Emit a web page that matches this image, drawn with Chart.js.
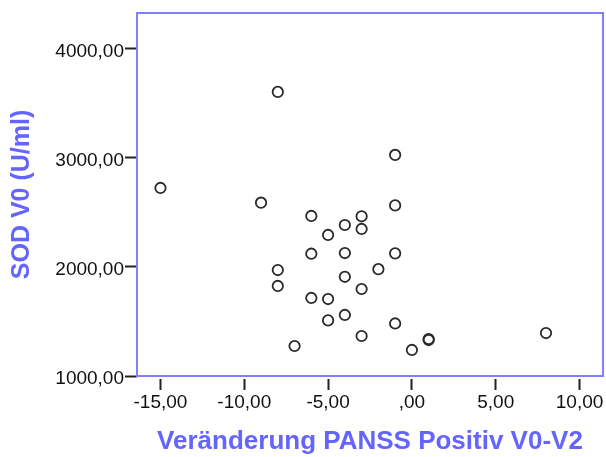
<!DOCTYPE html>
<html>
<head>
<meta charset="utf-8">
<script src="https://cdn.jsdelivr.net/npm/chart.js@4.4.1/dist/chart.umd.min.js"></script>
<style>
  html, body { margin: 0; padding: 0; background: #fff; }
  #wrap { width: 606px; height: 457px; }
</style>
</head>
<body>
<div id="wrap"><canvas id="scatter"></canvas></div>
<script>
// values
var panssChange = [-15, -9, -8, -8, -8, -7, -6, -6, -6, -5, -5, -5, -4, -4, -4, -4,
                   -3, -3, -3, -3, -2, -1, -1, -1, -1, 0, 1, 1, 8];
var sodV0 = [2725, 2590, 3606, 1972, 1826, 1275, 2468, 2122, 1716, 2294, 1706, 1510,
             2385, 2128, 1910, 1560, 2465, 2349, 1798, 1367, 1980, 3028, 2565, 2125,
             1482, 1239, 1339, 1330, 1394];
var xTicks = [-15, -10, -5, 0, 5, 10];
var yTicks = [1000, 2000, 3000, 4000];
var xTitle = 'Veränderung PANSS Positiv V0-V2';
var yTitle = 'SOD V0 (U/ml)';

var blue = '#6464ff';

function spssNum(v) {
  var s = v.toFixed(2).replace('.', ',');
  // SPSS drops the leading zero
  if (s.indexOf('0,') === 0) s = s.substring(1);
  if (s.indexOf('-0,') === 0) s = '-' + s.substring(2);
  return s;
}

var points = panssChange.map(function(x, i) {
  return { x: x, y: sodV0[i] };
});

// frame round the plot area
var framePlugin = {
  id: 'frame',
  afterDraw: function(chart) {
    var a = chart.chartArea, ctx = chart.ctx;
    ctx.save();
    ctx.strokeStyle = '#8080ff';
    ctx.lineWidth = 2;
    ctx.strokeRect(a.left, a.top, a.right - a.left, a.bottom - a.top);
    ctx.restore();
  }
};

Chart.defaults.font.family = '"Liberation Sans", Arial, sans-serif';

var ctx = document.getElementById('scatter').getContext('2d');
new Chart(ctx, {
  type: 'scatter',
  data: {
    datasets: [{
      data: points,
      pointRadius: 5.2,
      pointBorderWidth: 1.8,
      pointBorderColor: '#2a2a2a',
      pointBackgroundColor: 'rgba(255,255,255,0)',
      pointHoverRadius: 5.2
    }]
  },
  plugins: [framePlugin],
  options: {
    responsive: true,
    maintainAspectRatio: false,
    animation: false,
    layout: { autoPadding: false, padding: { left: 0, top: 13, right: 3, bottom: 0 } },
    plugins: { legend: { display: false }, tooltip: { enabled: false } },
    scales: {
      x: {
        type: 'linear',
        min: -16.4,
        max: 11.4,
        afterBuildTicks: function(scale) {
          scale.ticks = xTicks.map(function(v) { return { value: v }; });
        },
        afterFit: function(scale) {
          scale.height = 81;
          scale.paddingLeft = 0;
          scale.paddingRight = 0;
        },
        border: { display: false },
        grid: {
          drawOnChartArea: false, drawTicks: true, tickLength: 14, tickWidth: 2, tickColor: '#222',
          tickBorderDash: [0, 3, 11, 20]   // small gap under the frame, like SPSS
        },
        ticks: {
          color: '#111',
          font: { size: 19 },
          padding: 1,
          maxRotation: 0,
          callback: function(v) { return spssNum(v); }
        },
        title: {
          display: true,
          text: xTitle,
          color: blue,
          font: { size: 26, weight: 'bold' },
          padding: { top: 0, bottom: 0 }
        }
      },
      y: {
        type: 'linear',
        min: 1000,
        max: 4330,
        afterBuildTicks: function(scale) {
          scale.ticks = yTicks.map(function(v) { return { value: v }; });
        },
        afterFit: function(scale) {
          scale.width = 137;
          scale.paddingTop = 0;
          scale.paddingBottom = 0;
        },
        border: { display: false },
        grid: { drawOnChartArea: false, drawTicks: true, tickLength: 12, tickWidth: 2, tickColor: '#222' },
        ticks: {
          color: '#111',
          font: { size: 19 },
          padding: 1,
          labelOffset: 3,
          callback: function(v) { return spssNum(v); }
        },
        title: {
          display: true,
          text: yTitle,
          color: blue,
          font: { size: 25, weight: 'bold' },
          padding: { top: 7, bottom: 0 }
        }
      }
    }
  }
});
</script>
</body>
</html>
